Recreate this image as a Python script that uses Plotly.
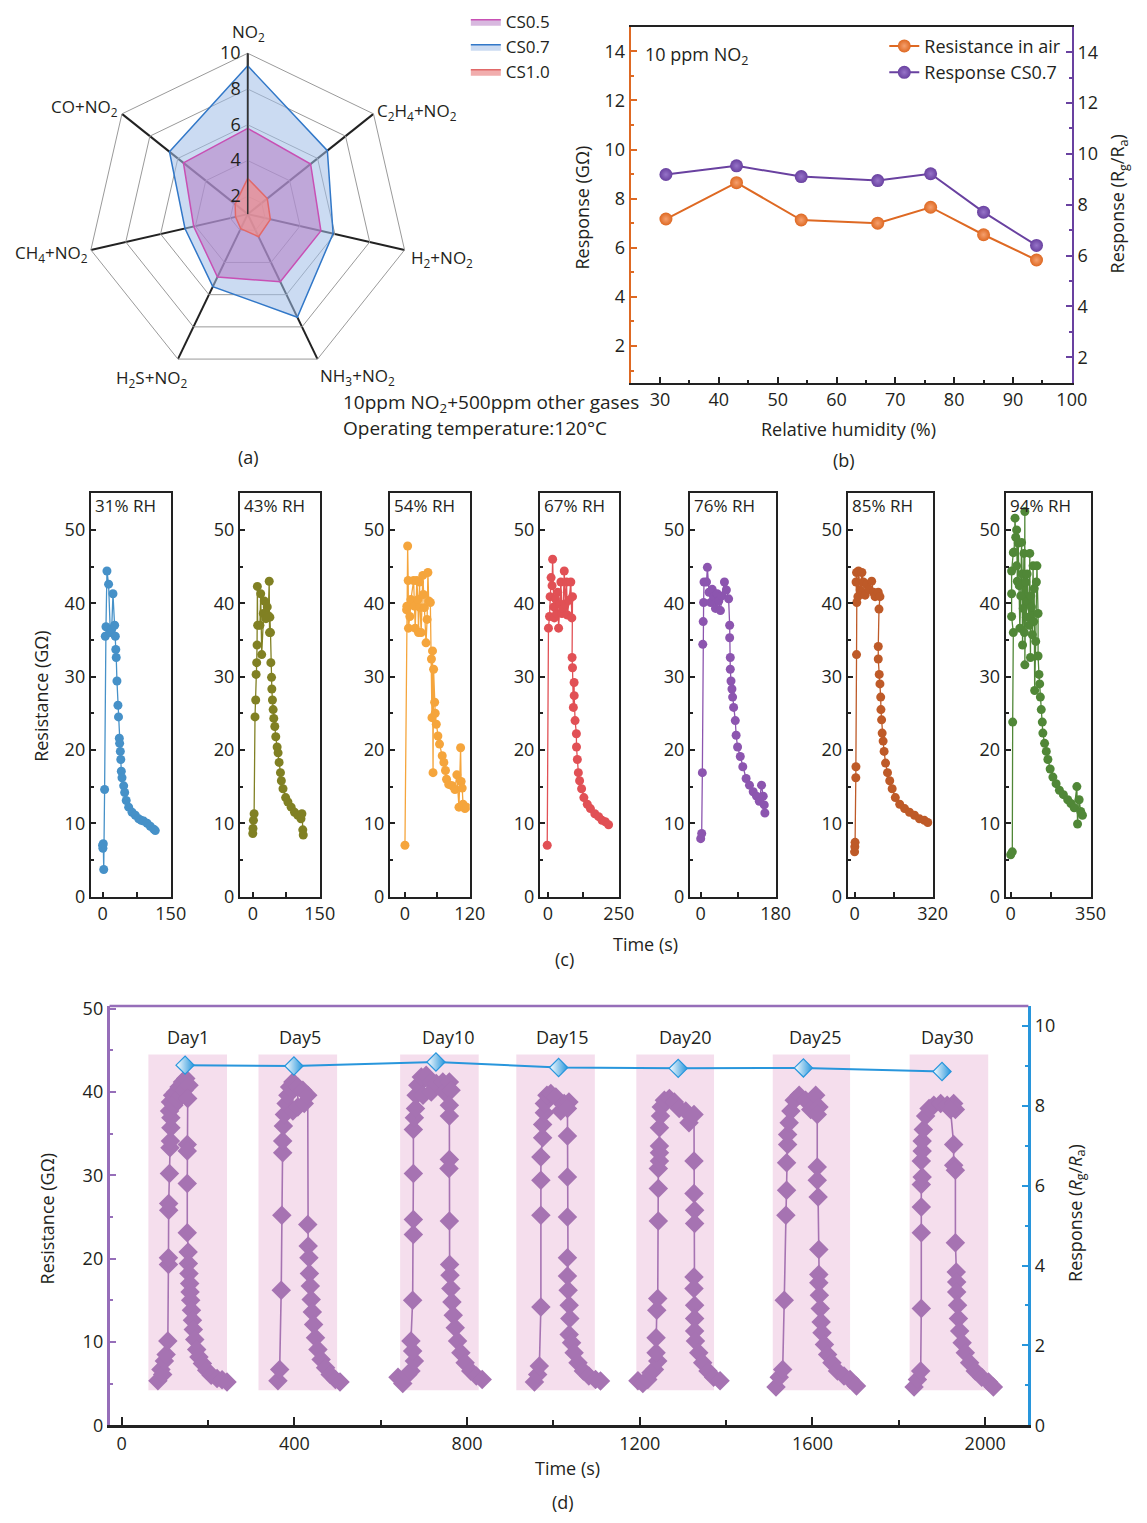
import plotly.graph_objects as go

W, H = 1147, 1523
def px(x): return x / W
def py(y): return 1 - y / H

FONT = "'Open Sans', Lato, sans-serif"
TXT = "#231f20"

# ---------------- (a) radar data ----------------
radar_cats = ["NO<sub>2</sub>", "C<sub>2</sub>H<sub>4</sub>+NO<sub>2</sub>", "H<sub>2</sub>+NO<sub>2</sub>",
              "NH<sub>3</sub>+NO<sub>2</sub>", "H<sub>2</sub>S+NO<sub>2</sub>", "CH<sub>4</sub>+NO<sub>2</sub>",
              "CO+NO<sub>2</sub>"]
cs05 = [5.8, 5.5, 5.2, 5.2, 4.9, 4.1, 5.6]
cs07 = [9.3, 6.7, 5.9, 7.4, 5.5, 4.6, 6.6]
cs10 = [3.0, 2.4, 2.3, 2.4, 1.9, 1.7, 1.9]
radar_ticks = [2, 4, 6, 8, 10]

# ---------------- (b) humidity data ----------------
rh = [31, 43, 54, 67, 76, 85, 94]
res_air = [7.17, 8.65, 7.13, 7.0, 7.65, 6.53, 5.5]
resp_cs07 = [9.19, 9.53, 9.11, 8.95, 9.22, 7.71, 6.4]

# ---------------- (c) transient data (time s, resistance GOhm) ----------------
rh31 = [(0, 7.0), (0.7, 6.6), (1.5, 7.2), (2.5, 3.7), (4.4, 14.6), (5.9, 35.5), (7.4, 36.8), (9.6, 44.4),
        (13.2, 42.6), (17, 36), (20, 36.5), (22.8, 41.3), (26.5, 37), (28, 35.5), (29, 33.7), (30, 32.6),
        (31.6, 29.4), (33.8, 26.1), (35, 24.5), (36.8, 21.6), (37.5, 20.9), (39, 19.8), (40, 18.7),
        (41.2, 17.1), (42.7, 16.2), (46.4, 15.1), (48.6, 14.2), (52, 13.1), (57.4, 12.2), (64.8, 11.5),
        (72, 11.1), (79.5, 10.6), (85, 10.4), (90.5, 10.3), (98, 10.0), (105, 9.6), (112.6, 9.2), (116, 9.0)]
rh43 = [(0, 8.6), (0.5, 9.3), (1.5, 10.4), (3, 11.3), (5, 24.5), (6.6, 26.8), (7.4, 30.3), (8.8, 31.9),
        (9.6, 34.3), (10.3, 42.3), (11, 37), (16, 37), (17.7, 41.3), (20, 33), (23.5, 38.6), (25.8, 40.3),
        (29.4, 37.9), (32.4, 39.5), (34.6, 38.3), (36.8, 43), (37.5, 36), (38.3, 38.1), (39.7, 36),
        (40.5, 31.9), (42, 29.9), (42.7, 28.3), (44, 26.8), (45.6, 25.5), (47, 24.3), (49.3, 23.2),
        (51.5, 21.8), (54.5, 20.4), (56.7, 19.6), (59, 18.3), (62, 16.9), (64, 15.8), (67.7, 14.7),
        (73.6, 13.5), (78.7, 12.9), (86, 12.2), (93.5, 11.5), (100.8, 11.1), (108, 10.6), (110, 11.3),
        (112, 9.1), (113, 8.4)]
rh54 = [(0, 7.0), (3, 39.1), (3.5, 39.6), (5, 47.8), (6, 43.1), (6.5, 36.6), (9, 38.2), (11, 40.5),
        (16, 43.1), (17.5, 39.6), (19, 36.6), (22, 43.1), (24, 40.5), (25, 36), (27, 42.9), (28, 39.4),
        (30, 36), (33, 43.8), (34, 41.2), (36, 39.4), (39, 34.6), (41, 37.8), (42.5, 44.2), (44, 40.3),
        (47, 40.1), (49, 32.4), (50, 24.4), (51, 33.5), (52, 16.9), (53, 31), (55, 26.5), (56, 25),
        (58, 23.5), (61, 21.9), (64, 20.8), (69, 19.2), (72, 18.3), (75, 17.2), (77, 16.0), (81, 15.3),
        (87.5, 15.1), (92.5, 14.6), (96, 16.6), (100, 12.2), (103, 20.3), (104, 15.7), (106, 14.8),
        (107.5, 12.6), (111, 12), (114, 12.2)]
rh67 = [(-2, 7.0), (2.3, 36.6), (6, 38.2), (8.1, 40.9), (11.6, 43.5), (15, 42.4), (17, 46), (21, 39.5),
        (23, 38), (27, 40.6), (31, 38.6), (35, 41.5), (38, 36.6), (43, 39.9), (46, 42.9), (50, 38.6),
        (54, 39.3), (58, 44.4), (61, 39.9), (66, 42.9), (69, 38.4), (75, 40.4), (81, 42.9), (84.5, 38),
        (87, 40.9), (85.5, 32.6), (87, 31.2), (90, 25.8), (92.6, 29.2), (93, 27.4), (96, 24), (100.7, 22.2),
        (101, 20.4), (104, 18.7), (107.6, 16.9), (112, 15.8), (119, 14.7), (127, 13.5), (139, 12.6),
        (150, 12), (165.5, 11.3), (179, 10.9), (191, 10.4), (202.5, 10.2), (214, 9.8)]
rh76 = [(0, 7.9), (2.4, 8.6), (4, 16.9), (5, 34.4), (6, 37.5), (7, 40.1), (8, 42.9), (14, 42.9), (16, 44.9),
        (20, 41.5), (24, 40.1), (27.6, 41.9), (31.6, 40.9), (35.5, 39.3), (39.5, 41.3), (43.4, 40.3),
        (47.4, 39), (51, 41), (57, 42.9), (61.6, 41.8), (67, 40.6), (69.5, 37), (69.5, 35.3), (71, 32.6),
        (71, 31), (72.7, 29.4), (75, 28.3), (76.6, 27.2), (79, 25.8), (83, 24), (85, 22), (88.5, 20.4),
        (95, 19.1), (101, 17.7), (109, 16.1), (117, 15.2), (126, 14.3), (134, 13.7), (140.6, 13),
        (146, 15.2), (150, 13.7), (152.5, 12.5), (154, 11.4)]
rh85 = [(0, 6.1), (1, 6.8), (2, 7.4), (5, 16.2), (5.5, 17.7), (8, 33), (9, 40.1), (6, 42.9), (8, 44.2),
        (13.5, 40.9), (16, 44.4), (23, 41.8), (30, 44.2), (36, 42.9), (43, 41.1), (50, 42.6), (59, 41.9),
        (70, 43), (77, 41.5), (84, 40.9), (97, 41.5), (104, 40.9), (100, 39.2), (97, 34.1), (97, 32.4),
        (101, 30.3), (104, 29), (107, 27.2), (108, 25.5), (110.7, 24.1), (113, 22.3), (117, 21.2),
        (121, 19.8), (127, 18.2), (135, 16.9), (144, 15.8), (154, 14.7), (167, 13.5), (185, 12.6),
        (205, 12), (225, 11.5), (245.6, 11.1), (266, 10.6), (286, 10.4), (300, 10.1)]
rh94 = [(0, 5.7), (7, 6.1), (8.7, 23.8), (11.5, 36), (4, 38.2), (4, 41.3), (4, 44.4), (11.5, 46.9),
        (15, 47), (19, 51.6), (22, 49), (26, 50), (26, 45.1), (29, 43), (33, 48.2), (37.5, 42.4), (40, 36.6),
        (44, 41), (47.6, 48.3), (50, 44), (52, 34.3), (55, 39.3), (58, 46.8), (60, 36), (62, 52.5),
        (62, 31.6), (66, 42.9), (69, 38.1), (72, 44), (76.5, 40.2), (81, 37), (83.7, 46.8), (86.6, 32.6),
        (88, 41), (91, 39.5), (95, 35.7), (98, 45.1), (101, 37.5), (103, 42), (105, 28.1), (109.7, 34.8),
        (112.6, 42.9), (115, 45.1), (120, 38.6), (120, 32.8), (124, 30.3), (127, 29), (130, 27.2),
        (134, 25.5), (138.5, 23.8), (141, 22.3), (148.6, 20.9), (156, 19.8), (163, 18.7), (173, 17.4),
        (185, 16.3), (199, 15.4), (213.6, 14.5), (231, 13.9), (250, 13.2), (264, 12.7), (278.5, 12.1),
        (290, 15), (293, 9.9), (300, 13.2), (307, 11.6), (314.5, 11.1)]
c_labels = ["31% RH", "43% RH", "54% RH", "67% RH", "76% RH", "85% RH", "94% RH"]
c_series = [rh31, rh43, rh54, rh67, rh76, rh85, rh94]
c_tmax = [150, 150, 120, 250, 180, 320, 350]
c_tmin = [-26, -29, -28, -28, -26, -28, -22]
c_colors = ["rgb(70,145,200)", "rgb(128,128,35)", "rgb(245,165,60)", "rgb(225,80,85)",
            "rgb(140,85,175)", "rgb(190,90,40)", "rgb(80,135,55)"]
c_left = [92, 243, 395, 547, 699, 859, 1019]
c_right = [173, 324, 476, 627, 786, 945, 1105]

# ---------------- (d) stability data ----------------
day1 = [(84, 5.35), (91, 6.7), (95, 6.1), (99, 7.7), (103, 8.5), (107, 10.1), (108.4, 19.3), (108.4, 20.1),
        (109, 25.8), (109, 26.6), (110.7, 30.2), (112, 33.3), (113, 34.1), (114, 35.7), (114, 36.9),
        (111, 37.7), (113, 38.8), (118, 39.6), (121, 38.4), (125.5, 40), (129, 39), (133, 40.6), (137, 39.6),
        (141, 41.2), (144.6, 40.2), (148.5, 41.6), (156, 40.8), (153, 39.2), (152, 33.7), (152, 32.9),
        (152, 29), (152, 23.1), (154, 20.8), (154.5, 19.4), (156, 18.2), (157.6, 17.0), (158.5, 16.0),
        (160, 15.0), (161.6, 13.8), (164, 12.6), (166, 11.5), (169.3, 10.3), (173.8, 9.1), (179, 8.2),
        (187, 7.4), (197, 6.6), (207.4, 6.0), (221, 5.6), (232.6, 5.45), (244, 5.2)]
day5 = [(362, 5.35), (366, 6.7), (369.6, 16.2), (371, 25.2), (373, 32.7), (373, 34.1), (374.6, 35.9),
        (377, 37.3), (381, 38.6), (385, 39.6), (389, 40.6), (396.6, 41.2), (396.6, 37.7), (408, 38.2),
        (408, 40.6), (419.6, 40.2), (423, 38.6), (431, 39.6), (431, 24.1), (432, 21.5), (433.8, 20.1),
        (435, 18.2), (437, 16.7), (439, 15.1), (441.6, 13.6), (444.6, 12.1), (449, 10.5), (454.6, 9.1),
        (462, 7.9), (472.3, 6.9), (483, 6.1), (495, 5.5), (505.7, 5.2)]
day10 = [(640, 5.75), (651, 5.0), (662.7, 6.1), (670, 6.5), (678, 7.7), (674, 8.9), (670, 10.1), (674, 15.0),
         (675.7, 22.9), (675.7, 24.7), (675.7, 30.2), (675.7, 35.5), (678, 36.9), (680.6, 38), (682, 39.6),
         (686, 40.8), (694, 41.8), (705.4, 42.0), (698, 39.6), (717, 41.2), (717, 40), (728.6, 41.0),
         (743.8, 41.2), (747.6, 40.0), (759, 41.2), (763, 40.2), (759, 38.4), (759, 37.1), (759, 31.9),
         (758, 30.8), (759, 24.5), (759.6, 19.3), (760.5, 18.0), (762.5, 16.4), (765, 14.8), (768, 13.2),
         (772.6, 11.7), (778, 10.1), (785.6, 8.7), (795.5, 7.5), (808.5, 6.5), (821.4, 5.9), (835, 5.5)]
day15 = [(956, 5.2), (963.5, 6.1), (967.4, 7.1), (971, 14.2), (971, 25.2), (971, 29.4), (971, 32.2),
         (975, 34.5), (975, 36.1), (979, 37.5), (979, 38.6), (985, 39.6), (994, 39.8), (1005.6, 39.4),
         (1017, 37.7), (1025, 38.6), (1036, 38.8), (1032.5, 38.0), (1032.5, 34.7), (1032.5, 29.8),
         (1032.5, 25.0), (1032.5, 20.1), (1032.5, 17.9), (1034, 16.2), (1036.6, 14.4), (1038, 12.8),
         (1036.6, 10.9), (1042, 9.9), (1048, 8.7), (1057, 7.5), (1069.4, 6.5), (1082, 5.9), (1097.6, 5.5),
         (1109, 5.3)]
day20 = [(1195.7, 5.35), (1207, 5.0), (1218.5, 5.5), (1226, 6.3), (1234, 6.7), (1241.6, 7.7), (1237.7, 8.7),
         (1237.7, 10.5), (1239.3, 13.8), (1241.6, 15.2), (1243, 24.5), (1243, 28.4), (1243, 30.8),
         (1245.6, 31.7), (1245.6, 32.7), (1245.6, 33.5), (1245.6, 35.7), (1248, 37.1), (1249.7, 38.2),
         (1257, 39), (1268.5, 39.2), (1280, 38.8), (1291.3, 38.0), (1306.5, 37.7), (1314, 36.3),
         (1325.6, 37.3), (1325.6, 31.7), (1325.6, 27.8), (1327, 25.8), (1327, 24.2), (1325.6, 17.8),
         (1325.6, 16.4), (1327, 14.4), (1327, 12.8), (1327, 11.3), (1329, 10.1), (1336.6, 8.7),
         (1345.7, 7.5), (1358, 6.5), (1371, 5.75), (1386, 5.35)]
day25 = [(1515.5, 4.6), (1523, 5.75), (1531, 6.7), (1534.6, 15.0), (1538.4, 25.2), (1540, 28.2), (1540, 31.5),
         (1542.4, 33.7), (1542.4, 34.9), (1546, 36.3), (1550, 37.7), (1557.6, 39), (1569, 39.6), (1584, 39),
         (1596, 37.9), (1607.4, 39.6), (1615, 38.2), (1611, 37.3), (1611, 31), (1611, 29.4), (1613, 27.4),
         (1614.6, 21.1), (1614.6, 18.1), (1614.6, 17.1), (1616, 15.6), (1618, 14.0), (1620, 12.4),
         (1622, 11.1), (1627.7, 9.7), (1635, 8.5), (1645, 7.5), (1658, 6.5), (1673, 5.9), (1687, 5.5),
         (1702, 4.7)]
day30 = [(1835.3, 4.6), (1843, 5.5), (1850.6, 6.5), (1852, 14.0), (1852, 23.1), (1852, 26.2), (1852, 28.9),
         (1854, 29.8), (1852, 31.7), (1854, 32.9), (1854, 34.1), (1856.7, 35.5), (1862, 37.1), (1870, 38),
         (1881, 38.4), (1897, 38.6), (1912, 38.4), (1927, 38.6), (1931, 37.9), (1919.6, 37.9), (1927, 33.7),
         (1927, 31.2), (1931, 30.6), (1931, 21.9), (1933, 18.4), (1934, 17.2), (1934, 16.0), (1936, 14.4),
         (1938, 12.8), (1941, 11.3), (1946.5, 9.9), (1954, 8.7), (1964, 7.5), (1977, 6.5), (1992, 5.75),
         (2007.6, 5.2), (2019, 4.6)]
d_cycles = [day1, day5, day10, day15, day20, day25, day30]
day_labels = ["Day1", "Day5", "Day10", "Day15", "Day20", "Day25", "Day30"]
day_label_t = [153, 413, 756, 1021, 1306, 1607, 1913]
day_label_y = 46.6
day_rect_start = [62, 317, 645, 914, 1192, 1508, 1825]
day_rect_end = [244, 499, 827, 1096, 1372, 1687, 2007]
day_rect_low, day_rect_high = 4.2, 44.5
day_resp_t = [147, 399, 728, 1012, 1289, 1579, 1900]
day_resp = [9.02, 9.0, 9.1, 8.96, 8.94, 8.95, 8.86]

ORANGE = "rgb(222,105,35)"
PURPLE = "rgb(105,65,160)"
DPURPLE = "rgb(166,115,178)"
AXPURPLE = "rgb(150,110,185)"
BLUE = "rgb(40,150,220)"

fig = go.Figure()

# ---------- (a) radar ----------
radar_specs = [("CS0.7", cs07, "rgb(50,120,200)", "rgba(160,190,232,0.55)", 2),
               ("CS0.5", cs05, "rgb(200,80,180)", "rgba(180,118,194,0.52)", 1),
               ("CS1.0", cs10, "rgb(225,105,105)", "rgba(236,145,145,0.75)", 3)]
for name, vals, lc, fc, rank in radar_specs:
    fig.add_trace(go.Scatterpolar(r=vals + [vals[0]], theta=radar_cats + [radar_cats[0]], mode="lines",
                                  fill="toself", fillcolor=fc, line=dict(color=lc, width=1.5),
                                  name=name, legendrank=rank, legend="legend", hoverinfo="skip"))

# ---------- (b) humidity ----------
fig.add_trace(go.Scatter(x=rh, y=res_air, xaxis="x", yaxis="y", mode="lines+markers", name="Resistance in air",
                         line=dict(color=ORANGE, width=2),
                         marker=dict(size=13, color=ORANGE, gradient=dict(type="radial", color="rgb(245,160,110)")),
                         legend="legend2"))
fig.add_trace(go.Scatter(x=rh, y=resp_cs07, xaxis="x", yaxis="y2", mode="lines+markers", name="Response CS0.7",
                         line=dict(color=PURPLE, width=2),
                         marker=dict(size=13, color=PURPLE, gradient=dict(type="radial", color="rgb(150,115,200)")),
                         legend="legend2"))

# ---------- (c) transients ----------
for i, data in enumerate(c_series):
    n = i + 3
    t = [p[0] for p in data]
    r = [p[1] for p in data]
    fig.add_trace(go.Scatter(x=t, y=r, xaxis=f"x{n}", yaxis=f"y{n}", mode="lines+markers",
                             line=dict(color=c_colors[i], width=1.3),
                             marker=dict(size=9, color=c_colors[i]), showlegend=False, hoverinfo="skip"))

# ---------- (d) stability ----------
dt, dr = [], []
for cyc in d_cycles:
    dt += [p[0] for p in cyc] + [None]
    dr += [p[1] for p in cyc] + [None]
fig.add_trace(go.Scatter(x=dt, y=dr, xaxis="x10", yaxis="y10", mode="lines+markers",
                         line=dict(color=DPURPLE, width=1.6),
                         marker=dict(symbol="diamond", size=15, color=DPURPLE), showlegend=False,
                         connectgaps=False, hoverinfo="skip"))
fig.add_trace(go.Scatter(x=day_resp_t, y=day_resp, xaxis="x10", yaxis="y11", mode="lines+markers",
                         line=dict(color=BLUE, width=2),
                         marker=dict(symbol="diamond", size=14, color="white", line=dict(color=BLUE, width=1.2),
                                     gradient=dict(type="horizontal", color=BLUE)),
                         showlegend=False, hoverinfo="skip"))

shapes = []
for s, e in zip(day_rect_start, day_rect_end):
    shapes.append(dict(type="rect", xref="x10", yref="y10", x0=s, x1=e, y0=day_rect_low, y1=day_rect_high,
                       fillcolor="rgba(243,214,233,0.8)", line=dict(width=0), layer="below"))
shapes.append(dict(type="line", xref="x10 domain", yref="y10 domain", x0=0, x1=1, y0=1, y1=1,
                   line=dict(color=AXPURPLE, width=2.5)))

annotations = []
def ann(text, x, y, size=18, xanchor="center", yanchor="middle", angle=0, **kw):
    d = dict(text=text, x=px(x), y=py(y), xref="paper", yref="paper", showarrow=False,
             font=dict(size=size, color=TXT, family=FONT), xanchor=xanchor, yanchor=yanchor, textangle=angle)
    d.update(kw)
    annotations.append(d)

# (a) radar category labels (placed like the reference, outside each vertex)
radar_label_pos = [(252, 23, "center"), (380, 103, "left"), (414, 252, "left"), (322, 372, "left"),
                   (191, 374, "right"), (91, 247, "right"), (122, 99, "right")]
for lab, (x, y, anc) in zip(radar_cats, radar_label_pos):
    ann(lab, x, y, size=17, xanchor=anc)
# (a) captions
ann("10ppm NO<sub>2</sub>+500ppm other gases", 346, 399, size=19, xanchor="left")
ann("Operating temperature:120°C", 346, 424, size=19, xanchor="left")
ann("(a)", 252, 453)
# (b)
ann("10 ppm NO<sub>2</sub>", 652, 46, xanchor="left")
ann("Relative humidity (%)", 860, 425)
ann("Response (GΩ)", 590, 200, angle=-90)
ann("Response (R<sub>g</sub>/R<sub>a</sub>)", 1133, 197, angle=-90)
ann("(b)", 855, 456)
# (c)
for i, lab in enumerate(c_labels):
    ann(lab, c_left[i] + 2, 502, size=17, xanchor="left")
ann("Resistance (GΩ)", 42, 695, angle=-90)
ann("Time (s)", 654, 947)
ann("(c)", 572, 962)
# (d)
for lab, t in zip(day_labels, day_label_t):
    annotations.append(dict(text=lab, x=t, y=day_label_y, xref="x10", yref="y10", showarrow=False,
                            font=dict(size=18, color=TXT, family=FONT)))
ann("Time (s)", 575, 1478)
ann("Resistance (GΩ)", 48, 1225, angle=-90)
ann("Response (<i>R</i><sub>g</sub>/<i>R</i><sub>a</sub>)", 1090, 1220, angle=-90)
ann("(d)", 570, 1513)

tickfont = dict(size=18, color=TXT, family=FONT)

layout = dict(
    width=W, height=H, autosize=False, margin=dict(l=0, r=0, t=0, b=0),
    paper_bgcolor="white", plot_bgcolor="rgba(0,0,0,0)",
    font=dict(family=FONT, size=18, color=TXT),
    shapes=shapes, annotations=annotations,
    polar=dict(
        domain=dict(x=[px(88), px(414)], y=[py(372), py(42)]),
        bgcolor="rgba(0,0,0,0)", gridshape="linear",
        radialaxis=dict(range=[1, 10], tickvals=radar_ticks, angle=90, side="counterclockwise", tickangle=90,
                        showline=True, linecolor="#333", linewidth=1.5, gridcolor="#9a9a9a", gridwidth=1,
                        tickfont=dict(size=18, color=TXT), ticks=""),
        angularaxis=dict(direction="clockwise", rotation=90, categoryorder="array", categoryarray=radar_cats,
                         gridcolor="#222", gridwidth=1.5, linecolor="#9a9a9a", linewidth=1,
                         showticklabels=False, ticks=""),
    ),
    legend=dict(x=px(472), y=1 + 6 / H, xanchor="left", yanchor="top", bgcolor="rgba(0,0,0,0)",
                font=dict(size=17, color=TXT), tracegroupgap=0, itemwidth=30),
    legend2=dict(x=px(896), y=py(18), xanchor="left", yanchor="top", bgcolor="rgba(0,0,0,0)",
                 font=dict(size=18, color=TXT), tracegroupgap=0),
    # (b)
    xaxis=dict(domain=[px(639), px(1086)], anchor="y", range=[25, 100], dtick=10, tick0=0,
               showline=True, linecolor="#222", linewidth=2, mirror=True, ticks="inside", ticklen=6,
               tickcolor="#222", tickwidth=1.5, minor=dict(ticks="inside", ticklen=3, dtick=5, tickcolor="#222"),
               showgrid=False, zeroline=False, tickfont=tickfont),
    yaxis=dict(domain=[py(378), py(17)], anchor="x", range=[0.5, 15], tick0=0, dtick=2,
               showline=True, linecolor=ORANGE, linewidth=2, ticks="inside", ticklen=6, tickcolor=ORANGE,
               tickwidth=1.5, minor=dict(ticks="inside", ticklen=3, dtick=1, tickcolor=ORANGE),
               showgrid=False, zeroline=False, tickfont=tickfont),
    yaxis2=dict(overlaying="y", anchor="x", side="right", range=[1, 15], tick0=0, dtick=2,
                showline=True, linecolor=PURPLE, linewidth=2, ticks="inside", ticklen=6, tickcolor=PURPLE,
                tickwidth=1.5, minor=dict(ticks="inside", ticklen=3, dtick=1, tickcolor=PURPLE),
                showgrid=False, zeroline=False, tickfont=tickfont),
    # (d)
    xaxis10=dict(domain=[px(111), px(1042)], anchor="y10", range=[-28, 2100], tick0=0, dtick=400,
                 showline=True, linecolor="#222", linewidth=2.5, ticks="inside", ticklen=8, tickcolor="#222",
                 tickwidth=2, minor=dict(ticks="inside", ticklen=5, dtick=200, tickcolor="#222"),
                 showgrid=False, zeroline=False, tickfont=tickfont),
    yaxis10=dict(domain=[py(1435), py(1010)], anchor="x10", range=[0, 50.3], tick0=0, dtick=10,
                 showline=True, linecolor=AXPURPLE, linewidth=2.5, ticks="inside", ticklen=7, tickcolor=AXPURPLE,
                 tickwidth=2, minor=dict(ticks="inside", ticklen=4, dtick=5, tickcolor=AXPURPLE),
                 showgrid=False, zeroline=False, tickfont=tickfont),
    yaxis11=dict(overlaying="y10", anchor="x10", side="right", range=[0, 10.5], tick0=0, dtick=2,
                 showline=True, linecolor=BLUE, linewidth=2.5, ticks="inside", ticklen=7, tickcolor=BLUE,
                 tickwidth=2, minor=dict(ticks="inside", ticklen=4, dtick=1, tickcolor=BLUE),
                 showgrid=False, zeroline=False, tickfont=tickfont),
)

for i in range(7):
    n = i + 3
    tmax = c_tmax[i]
    layout[f"xaxis{n}"] = dict(domain=[px(c_left[i]), px(c_right[i])], anchor=f"y{n}",
                               range=[c_tmin[i], tmax], tickvals=[0, tmax / 2, tmax],
                               ticktext=["0", "", str(tmax)], showline=True, mirror=True, linecolor="#222",
                               linewidth=2, ticks="inside", ticklen=5, tickcolor="#222", tickwidth=1.5,
                               showgrid=False, zeroline=False, tickfont=tickfont)
    layout[f"yaxis{n}"] = dict(domain=[py(899), py(490)], anchor=f"x{n}", range=[0, 55], tick0=0, dtick=10,
                               showline=True, mirror=True, linecolor="#222", linewidth=2, ticks="inside",
                               ticklen=5, tickcolor="#222", tickwidth=1.5,
                               minor=dict(ticks="inside", ticklen=3, dtick=5, tickcolor="#222"),
                               showgrid=False, zeroline=False, tickfont=tickfont)

fig.update_layout(**layout)
fig.write_html("out.html")
